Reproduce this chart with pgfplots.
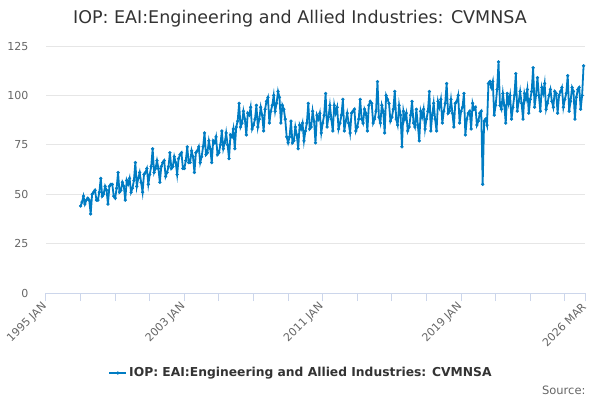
\documentclass[border=0pt]{standalone}
\usepackage{fontspec}
\setmainfont{DejaVu Sans}
\usepackage{pgfplots}
\pgfplotsset{compat=1.18}
\definecolor{series}{RGB}{0,124,195}
\definecolor{gridc}{RGB}{230,230,230}
\definecolor{axisc}{RGB}{204,214,235}
\definecolor{labc}{RGB}{102,102,102}
\definecolor{titlec}{RGB}{51,51,51}
\begin{document}
\begin{tikzpicture}[x=1pt,y=1pt]
\path[use as bounding box] (0,0) rectangle (600,400);
\node[text=titlec, font=\fontsize{17.5}{20}\selectfont] at (300,381) {IOP: EAI:Engineering and Allied Industries: CVMNSA};
\node[text=labc, anchor=east, font=\fontsize{11.5}{14}\selectfont] at (589,10) {Source:};
\begin{axis}[
  at={(46pt,107pt)}, anchor=south west,
  scale only axis, width=539pt, height=247pt,
  xmin=0, xmax=374, ymin=0, ymax=125,
  /pgf/number format/assume math mode=true,
  axis x line*=bottom, axis y line*=left,
  y axis line style={draw=none},
  x axis line style={axisc, line width=1pt},
  ytick={0,25,50,75,100,125},
  ymajorgrids, grid style={gridc, line width=0.8pt},
  ytick style={draw=none},
  xtick={0,96,192,288,374},
  xticklabels={1995 JAN,2003 JAN,2011 JAN,2019 JAN,2026 MAR},
  minor xtick={24,48,72,120,144,168,216,240,264,312,336,360},
  xtick style={axisc, line width=1pt},
  minor x tick style={axisc, line width=1pt},
  tick align=outside, major tick length=8pt, minor tick length=8pt,
  x tick label style={rotate=45, anchor=east, text=labc, font=\fontsize{11}{13}\selectfont, yshift=-2pt},
  y tick label style={text=labc, font=\fontsize{11}{13}\selectfont, xshift=-6pt},
  legend style={at={(0.473,-0.324)}, anchor=center, draw=none, fill=none, font=\bfseries\fontsize{12.3}{14}\selectfont, text=titlec},
  legend cell align=left,
]
\addplot[series, line width=1.8pt, mark=*, mark size=1.4pt, mark options={series, line width=0.5pt}] table[row sep=\\] {
t v\\
24 44\\ 25 46\\ 26 49\\ 27 45\\ 28 47\\ 29 48\\ 30 47\\ 31 40\\ 32 50\\ 33 51\\ 34 52\\ 35 47\\
36 47\\ 37 51\\ 38 58\\ 39 49\\ 40 50\\ 41 54\\ 42 52\\ 43 45\\ 44 54\\ 45 55\\ 46 55\\ 47 49\\
48 48\\ 49 53\\ 50 61\\ 51 51\\ 52 52\\ 53 56\\ 54 54\\ 55 47\\ 56 57\\ 57 55\\ 58 58\\ 59 51\\
60 53\\ 61 57\\ 62 66\\ 63 54\\ 64 58\\ 65 61\\ 66 56\\ 67 51\\ 68 60\\ 69 61\\ 70 63\\ 71 55\\
72 60\\ 73 64\\ 74 73\\ 75 61\\ 76 63\\ 77 67\\ 78 63\\ 79 56\\ 80 64\\ 81 66\\ 82 67\\ 83 59\\
84 61\\ 85 64\\ 86 71\\ 87 63\\ 88 64\\ 89 69\\ 90 66\\ 91 60\\ 92 68\\ 93 70\\ 94 71\\ 95 63\\
96 63\\ 97 67\\ 98 74\\ 99 66\\ 100 66\\ 101 72\\ 102 69\\ 103 61\\ 104 71\\ 105 72\\ 106 74\\ 107 66\\
108 69\\ 109 74\\ 110 81\\ 111 70\\ 112 71\\ 113 77\\ 114 73\\ 115 66\\ 116 77\\ 117 76\\ 118 79\\ 119 70\\
120 71\\ 121 75\\ 122 82\\ 123 73\\ 124 76\\ 125 81\\ 126 75\\ 127 68\\ 128 80\\ 129 79\\ 130 83\\ 131 73\\
132 84\\ 133 87\\ 134 96\\ 135 84\\ 136 86\\ 137 92\\ 138 88\\ 139 80\\ 140 91\\ 141 90\\ 142 94\\ 143 83\\
144 85\\ 145 88\\ 146 95\\ 147 84\\ 148 88\\ 149 94\\ 150 90\\ 151 82\\ 152 93\\ 153 97\\ 154 99\\ 155 86\\
156 92\\ 157 95\\ 158 100\\ 159 92\\ 160 96\\ 161 102\\ 162 99\\ 163 86\\ 164 95\\ 165 93\\ 166 88\\ 167 79\\
168 76\\ 169 79\\ 170 87\\ 171 76\\ 172 77\\ 173 84\\ 174 80\\ 175 73\\ 176 85\\ 177 83\\ 178 86\\ 179 77\\
180 82\\ 181 86\\ 182 96\\ 183 83\\ 184 84\\ 185 92\\ 186 87\\ 187 76\\ 188 90\\ 189 88\\ 190 91\\ 191 81\\
192 86\\ 193 90\\ 194 101\\ 195 84\\ 196 89\\ 197 95\\ 198 88\\ 199 82\\ 200 95\\ 201 91\\ 202 94\\ 203 83\\
204 86\\ 205 90\\ 206 98\\ 207 82\\ 208 87\\ 209 91\\ 210 86\\ 211 81\\ 212 91\\ 213 92\\ 214 93\\ 215 82\\
216 84\\ 217 88\\ 218 98\\ 219 88\\ 220 86\\ 221 93\\ 222 91\\ 223 82\\ 224 95\\ 225 97\\ 226 96\\ 227 86\\
228 88\\ 229 92\\ 230 107\\ 231 89\\ 232 86\\ 233 95\\ 234 92\\ 235 81\\ 236 100\\ 237 98\\ 238 96\\ 239 87\\
240 89\\ 241 93\\ 242 102\\ 243 88\\ 244 85\\ 245 95\\ 246 90\\ 247 74\\ 248 92\\ 249 88\\ 250 91\\ 251 82\\
252 84\\ 253 90\\ 254 97\\ 255 86\\ 256 84\\ 257 93\\ 258 85\\ 259 77\\ 260 92\\ 261 89\\ 262 93\\ 263 83\\
264 88\\ 265 92\\ 266 102\\ 267 82\\ 268 90\\ 269 96\\ 270 88\\ 271 82\\ 272 97\\ 273 94\\ 274 98\\ 275 86\\
276 92\\ 277 96\\ 278 106\\ 279 91\\ 280 92\\ 281 98\\ 282 91\\ 283 84\\ 284 96\\ 285 97\\ 286 100\\ 287 86\\
288 92\\ 289 94\\ 290 101\\ 291 80\\ 292 88\\ 293 91\\ 294 92\\ 295 83\\ 296 96\\ 297 93\\ 298 94\\ 299 85\\
300 87\\ 301 91\\ 302 92\\ 303 55\\ 304 87\\ 305 88\\ 306 85\\ 307 106\\ 308 107\\ 309 104\\ 310 107\\ 311 90\\
312 95\\ 313 103\\ 314 117\\ 315 95\\ 316 93\\ 317 101\\ 318 95\\ 319 86\\ 320 101\\ 321 96\\ 322 100\\ 323 88\\
324 94\\ 325 100\\ 326 111\\ 327 92\\ 328 97\\ 329 102\\ 330 96\\ 331 88\\ 332 101\\ 333 98\\ 334 103\\ 335 91\\
336 98\\ 337 102\\ 338 114\\ 339 94\\ 340 100\\ 341 109\\ 342 100\\ 343 92\\ 344 104\\ 345 101\\ 346 106\\ 347 93\\
348 96\\ 349 100\\ 350 103\\ 351 97\\ 352 94\\ 353 102\\ 354 101\\ 355 91\\ 356 100\\ 357 102\\ 358 104\\ 359 94\\
360 98\\ 361 101\\ 362 110\\ 363 92\\ 364 97\\ 365 104\\ 366 102\\ 367 88\\ 368 99\\ 369 103\\ 370 104\\ 371 93\\
372 100\\ 373 115\\
};
\addlegendentry{IOP: EAI:Engineering and Allied Industries: CVMNSA}
\end{axis}
\end{tikzpicture}
\end{document}
